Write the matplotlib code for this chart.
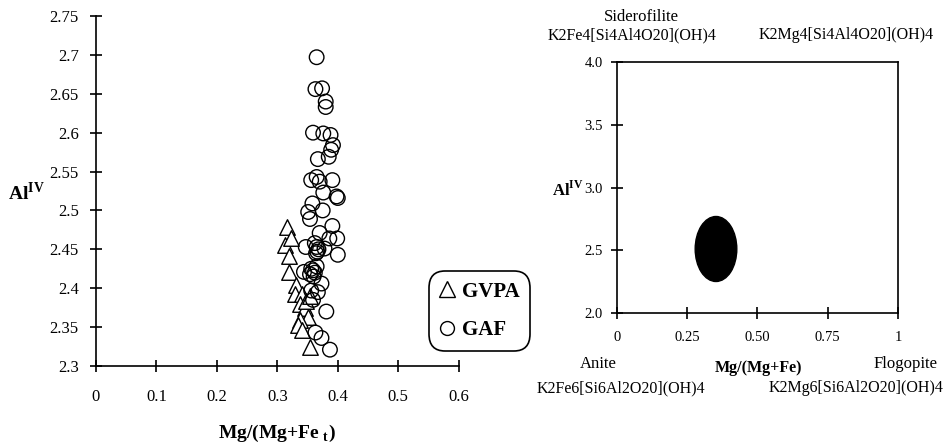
import matplotlib
matplotlib.use("Agg")
import matplotlib.pyplot as plt
from matplotlib.patches import Ellipse
from matplotlib.lines import Line2D

plt.rcParams['font.family'] = ['Liberation Serif', 'DejaVu Serif']
plt.rcParams['mathtext.fontset'] = 'custom'
plt.rcParams['mathtext.rm'] = 'Liberation Serif'
plt.rcParams['mathtext.bf'] = 'Liberation Serif:bold'

# ---- data: left scatter ----
gaf_x = [0.365, 0.363, 0.374, 0.380, 0.380, 0.359, 0.376, 0.388, 0.392, 0.389,
         0.385, 0.367, 0.356, 0.365, 0.370, 0.391, 0.376, 0.398, 0.400, 0.358,
         0.351, 0.375, 0.354, 0.370, 0.391, 0.386, 0.399, 0.400, 0.347, 0.365,
         0.366, 0.362, 0.368, 0.364, 0.378, 0.359, 0.356, 0.362, 0.360, 0.365,
         0.354, 0.344, 0.373, 0.367, 0.356, 0.381, 0.363, 0.373, 0.387, 0.359]
gaf_y = [2.697, 2.656, 2.657, 2.640, 2.633, 2.600, 2.599, 2.597, 2.584, 2.578,
         2.569, 2.566, 2.539, 2.543, 2.537, 2.539, 2.523, 2.518, 2.516, 2.509,
         2.498, 2.500, 2.489, 2.471, 2.480, 2.464, 2.464, 2.443, 2.453, 2.453,
         2.447, 2.458, 2.450, 2.445, 2.451, 2.423, 2.425, 2.420, 2.415, 2.428,
         2.418, 2.421, 2.406, 2.395, 2.397, 2.370, 2.343, 2.336, 2.321, 2.385]

gvpa_x = [0.316, 0.312, 0.323, 0.319, 0.320, 0.331, 0.329, 0.340, 0.337, 0.345,
          0.351, 0.337, 0.334, 0.340, 0.354, 0.348, 0.354]
gvpa_y = [2.479, 2.455, 2.464, 2.441, 2.421, 2.404, 2.393, 2.393, 2.380, 2.374,
          2.363, 2.359, 2.353, 2.346, 2.324, 2.384, 2.390]

left_xticks = [0, 0.1, 0.2, 0.3, 0.4, 0.5, 0.6]
left_xlabels = ['0', '0.1', '0.2', '0.3', '0.4', '0.5', '0.6']
left_yticks = [2.3, 2.35, 2.4, 2.45, 2.5, 2.55, 2.6, 2.65, 2.7, 2.75]
left_ylabels = ['2.3', '2.35', '2.4', '2.45', '2.5', '2.55', '2.6', '2.65', '2.7', '2.75']
legend_labels = ['GVPA', 'GAF']

# ---- data: right diagram ----
right_xticks = [0, 0.25, 0.5, 0.75, 1.0]
right_xlabels = ['0', '0.25', '0.50', '0.75', '1']
right_yticks = [2.0, 2.5, 3.0, 3.5, 4.0]
right_ylabels = ['2.0', '2.5', '3.0', '3.5', '4.0']
field_center = (0.353, 2.51)
field_width = 0.148
field_height = 0.518

fig = plt.figure(figsize=(9.48, 4.46), dpi=100)

# ---------- left axes ----------
ax = fig.add_axes([96/948, 80/446, 362.7/948, 350/446])
ax.scatter(gvpa_x, gvpa_y, marker='^', s=125, facecolors='white',
           edgecolors='black', linewidths=1.0, zorder=3)
ax.scatter(gaf_x, gaf_y, marker='o', s=110, facecolors='none',
           edgecolors='black', linewidths=1.0, zorder=4)
ax.set_xlim(0, 0.6)
ax.set_ylim(2.3, 2.75)
ax.spines['top'].set_visible(False)
ax.spines['right'].set_visible(False)
for s in ['left', 'bottom']:
    ax.spines[s].set_linewidth(1.2)
ax.set_xticks(left_xticks)
ax.set_xticklabels(left_xlabels)
ax.set_yticks(left_yticks)
ax.set_yticklabels(left_ylabels)
ax.tick_params(axis='both', direction='inout', length=9, width=1.2, labelsize=12)
ax.tick_params(axis='x', pad=12)
ax.tick_params(axis='y', pad=8)
fig.text(277/948, 1 - 433/446, 'Mg/(Mg+Fe $_{\\mathbf{t}}$)', fontsize=14,
         fontweight='bold', ha='center', va='center')
fig.text(26/948, 1 - 193/446, 'Al$^{\\mathbf{IV}}$', fontsize=14,
         fontweight='bold', ha='center', va='center')

handles = [Line2D([], [], marker='^', linestyle='none', markersize=11,
                  markerfacecolor='white', markeredgecolor='black'),
           Line2D([], [], marker='o', linestyle='none', markersize=10,
                  markerfacecolor='white', markeredgecolor='black')]
leg = fig.legend(handles, legend_labels, loc='center',
                 bbox_to_anchor=(479.5/948, 1 - 311/446),
                 prop={'family': 'Liberation Serif', 'weight': 'bold', 'size': 15},
                 frameon=True, fancybox=True, edgecolor='black',
                 handlelength=0.8, handletextpad=0.3, labelspacing=0.9,
                 borderpad=0.5, borderaxespad=0)
leg.get_frame().set_linewidth(1.2)
leg.get_frame().set_alpha(1)
leg.get_frame().set_boxstyle('round', pad=0, rounding_size=0.8)

# ---------- right axes ----------
ax2 = fig.add_axes([616.7/948, 133/446, 281.3/948, 251/446])
ax2.add_patch(Ellipse(field_center, field_width, field_height,
                      facecolor='black', edgecolor='black'))
ax2.set_xlim(0, 1)
ax2.set_ylim(2.0, 4.0)
for s in ax2.spines.values():
    s.set_linewidth(1.2)
ax2.set_xticks(right_xticks)
ax2.set_xticklabels(right_xlabels)
ax2.set_yticks(right_yticks)
ax2.set_yticklabels(right_ylabels)
ax2.tick_params(axis='both', direction='inout', length=8, width=1.2,
                labelsize=10.5)
ax2.tick_params(axis='x', pad=9)
ax2.tick_params(axis='y', pad=6)

def ft(x, y, s, **kw):
    fig.text(x/948, 1 - y/446, s, ha='center', va='center', **kw)

ft(641.7, 17, 'Siderofilite', fontsize=12)
ft(632.5, 35, 'K2Fe4[Si4Al4O20](OH)4', fontsize=11.5)
ft(845.8, 35, 'K2Mg4[Si4Al4O20](OH)4', fontsize=11.5)
ft(598, 364, 'Anite', fontsize=12)
ft(906, 364, 'Flogopite', fontsize=12)
ft(758, 368, 'Mg/(Mg+Fe)', fontsize=11.5, fontweight='bold')
ft(620.8, 388, 'K2Fe6[Si6Al2O20](OH)4', fontsize=11.5)
ft(855.8, 388, 'K2Mg6[Si6Al2O20](OH)4', fontsize=11.5)
ft(567.5, 190, 'Al$^{\\mathbf{IV}}$', fontsize=12, fontweight='bold')

fig.savefig('out.png', dpi=100)
